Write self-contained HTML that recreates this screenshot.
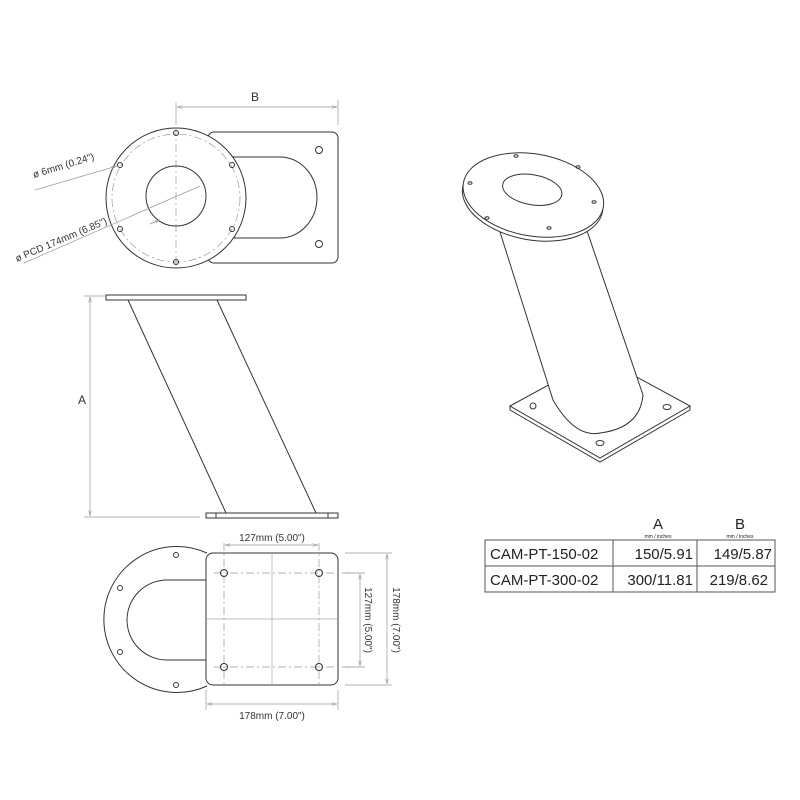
<!DOCTYPE html>
<html><head><meta charset="utf-8"><style>
html,body{margin:0;padding:0;background:#fff;}
svg{display:block;font-family:"Liberation Sans",sans-serif;}
</style></head><body>
<svg width="800" height="800" viewBox="0 0 800 800" xmlns="http://www.w3.org/2000/svg">
<defs>
<marker id="ar" markerWidth="8" markerHeight="6" refX="8" refY="3" orient="auto-start-reverse"><path d="M0,1 L8,3 L0,5" fill="none" stroke="#999" stroke-width="0.8"/></marker>
</defs>
<g fill="none" stroke="#333" stroke-width="1">
<!-- Top view -->
<rect x="208" y="132" width="130" height="131" rx="6" fill="#fff"/>
<circle cx="319" cy="150" r="3.5"/><circle cx="319" cy="244" r="3.5"/>
<path d="M210,157 H280 A37,40.5 0 0 1 280,238 H210"/>
<circle cx="176" cy="198" r="70" fill="#fff"/>
<circle cx="176" cy="198" r="64" stroke="#999" stroke-width="0.7" stroke-dasharray="8,3,2,3"/>
<line x1="176" y1="128" x2="176" y2="268" stroke="#999" stroke-width="0.7" stroke-dasharray="8,3,2,3"/>
<circle cx="176" cy="196" r="30"/>
<circle cx="176" cy="133" r="2.5"/><circle cx="176" cy="262" r="2.5"/>
<circle cx="120" cy="165" r="2.5"/><circle cx="232" cy="165" r="2.5"/>
<circle cx="120" cy="229" r="2.5"/><circle cx="232" cy="229" r="2.5"/>
<!-- Side view -->
<rect x="106" y="295" width="140" height="5"/>
<line x1="128" y1="300" x2="226" y2="513"/>
<line x1="217" y1="300" x2="316" y2="513"/>
<rect x="206" y="513" width="132" height="5"/>
<line x1="216" y1="513" x2="216" y2="518"/><line x1="328" y1="513" x2="328" y2="518"/>
<!-- Bottom view -->
<path d="M207,553 A73,73 0 1 0 207,686" />
<path d="M207,580 H167 A40,40 0 0 0 167,660 H207"/>
<circle cx="176" cy="555" r="2.5"/><circle cx="120" cy="588" r="2.5"/>
<circle cx="120" cy="652" r="2.5"/><circle cx="176" cy="685" r="2.5"/>
<rect x="206" y="553" width="132" height="132" rx="7" fill="#fff"/>
<g stroke="#999" stroke-width="0.7" stroke-dasharray="8,3,2,3">
<line x1="224" y1="543" x2="224" y2="685"/><line x1="319" y1="543" x2="319" y2="685"/>
<line x1="214" y1="573" x2="355" y2="573"/><line x1="214" y1="667" x2="355" y2="667"/>
</g>
<line x1="272" y1="553" x2="272" y2="685" stroke="#aaa" stroke-width="0.7"/>
<line x1="206" y1="619" x2="338" y2="619" stroke="#aaa" stroke-width="0.7"/>
<circle cx="224" cy="573" r="3.5"/><circle cx="319" cy="573" r="3.5"/>
<circle cx="224" cy="667" r="3.5"/><circle cx="319" cy="667" r="3.5"/>
<!-- 3D view -->
<polygon points="510,406 600,357 690,406 600,458" fill="#fff"/>
<path d="M510,406 L510,410 L600,462 L690,410 L690,406"/>
<circle cx="533" cy="406" r="3" />
<ellipse cx="667" cy="407" rx="4" ry="2.5"/><ellipse cx="600" cy="443" rx="4" ry="2.5"/>
<path d="M500,232 L553,400 Q575,438 600,433 Q640,428 643,395 L585,225" fill="#fff"/>
<g transform="rotate(10 533 197)">
<ellipse cx="533" cy="199" rx="71" ry="41" fill="#fff"/>
<ellipse cx="533" cy="195" rx="71" ry="41" fill="#fff"/>
<ellipse cx="531" cy="190" rx="30" ry="15"/>
</g>
<ellipse cx="516" cy="156" rx="2" ry="1.3"/><ellipse cx="578" cy="167" rx="2" ry="1.3"/>
<ellipse cx="470" cy="183" rx="2" ry="1.3"/><ellipse cx="594" cy="202" rx="2" ry="1.3"/>
<ellipse cx="487" cy="218" rx="2" ry="1.3"/><ellipse cx="549" cy="228" rx="2" ry="1.3"/>
</g>
<!-- dimensions -->
<g stroke="#999" stroke-width="0.7" fill="none">
<line x1="176" y1="102" x2="176" y2="125"/><line x1="338" y1="100" x2="338" y2="125"/>
<line x1="177" y1="107" x2="337" y2="107" marker-start="url(#ar)" marker-end="url(#ar)"/>
<line x1="84" y1="296" x2="106" y2="296"/><line x1="84" y1="517" x2="200" y2="517"/>
<line x1="90" y1="297" x2="90" y2="516" marker-start="url(#ar)" marker-end="url(#ar)"/>
<line x1="35" y1="190" x2="117" y2="166" marker-end="url(#ar)"/>
<line x1="24" y1="263" x2="200" y2="186"/>
<line x1="150" y1="224" x2="160" y2="220" marker-end="url(#ar)"/>
<line x1="225" y1="545" x2="318" y2="545" marker-start="url(#ar)" marker-end="url(#ar)"/>
<line x1="345" y1="573" x2="365" y2="573"/><line x1="345" y1="667" x2="365" y2="667"/>
<line x1="360" y1="574" x2="360" y2="666" marker-start="url(#ar)" marker-end="url(#ar)"/>
<line x1="345" y1="553" x2="392" y2="553"/><line x1="345" y1="685" x2="392" y2="685"/>
<line x1="387" y1="554" x2="387" y2="684" marker-start="url(#ar)" marker-end="url(#ar)"/>
<line x1="206" y1="690" x2="206" y2="710"/><line x1="338" y1="690" x2="338" y2="710"/>
<line x1="207" y1="704" x2="337" y2="704" marker-start="url(#ar)" marker-end="url(#ar)"/>
</g>
<g fill="#333" font-size="11">
<text x="255" y="101" text-anchor="middle" font-size="12">B</text>
<text x="82" y="404" text-anchor="middle" font-size="12">A</text>
<text transform="translate(34,178) rotate(-17)" font-size="10">ø 6mm (0.24")</text>
<text transform="translate(17,262) rotate(-23)" font-size="10">ø PCD 174mm (6.85")</text>
<text x="272" y="541" text-anchor="middle" font-size="10">127mm (5.00")</text>
<text x="272" y="719" text-anchor="middle" font-size="10">178mm (7.00")</text>
<text transform="translate(365,620) rotate(90)" text-anchor="middle" font-size="10">127mm (5.00")</text>
<text transform="translate(393,620) rotate(90)" text-anchor="middle" font-size="10">178mm (7.00")</text>
</g>
<!-- table -->
<g stroke="#555" stroke-width="1" fill="none">
<rect x="485" y="540" width="290" height="52"/>
<line x1="485" y1="566" x2="775" y2="566"/>
<line x1="613" y1="540" x2="613" y2="592"/><line x1="697" y1="540" x2="697" y2="592"/>
</g>
<g fill="#222">
<text x="658" y="529" text-anchor="middle" font-size="15">A</text>
<text x="740" y="529" text-anchor="middle" font-size="15">B</text>
<text x="658" y="538" text-anchor="middle" font-size="5">mm / inches</text>
<text x="740" y="538" text-anchor="middle" font-size="5">mm / inches</text>
<text x="490" y="559" font-size="15">CAM-PT-150-02</text>
<text x="490" y="585" font-size="15">CAM-PT-300-02</text>
<text x="693" y="559" text-anchor="end" font-size="15">150/5.91</text>
<text x="693" y="585" text-anchor="end" font-size="15">300/11.81</text>
<text x="772" y="559" text-anchor="end" font-size="15">149/5.87</text>
<text x="768" y="585" text-anchor="end" font-size="15">219/8.62</text>
</g>
</svg>
</body></html>
